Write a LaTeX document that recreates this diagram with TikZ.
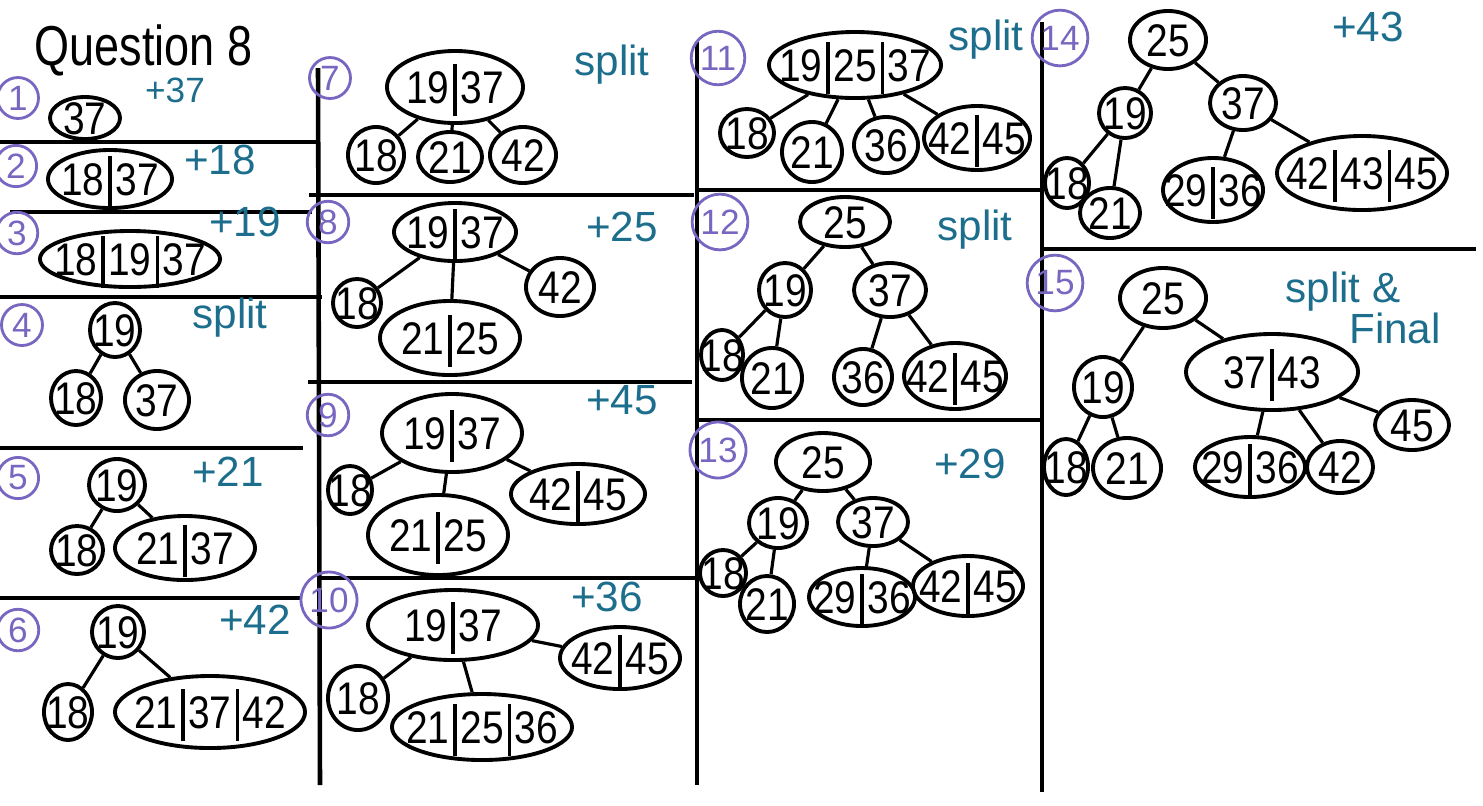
\documentclass[tikz,border=0pt]{standalone}
\usepackage{fontspec}
\setmainfont{Liberation Sans}
\usetikzlibrary{shapes.geometric}
\definecolor{notecol}{RGB}{28,110,140}
\definecolor{stepcol}{RGB}{120,102,192}
% key text is boxed at zero size, so the ellipse size is set by hand
\newcommand\kn[1]{\makebox[0pt]{\smash{\raisebox{-0.36em}{\scalebox{0.85}[1]{#1}}}}}
\newcommand\kb{\hspace{0.1em}\rule[-0.5ex]{1.1pt}{2.15ex}\hspace{0.1em}}

\begin{document}
\begin{tikzpicture}[x=0.01cm, y=-0.01cm]
	\tikzstyle{keynode}=[
	ellipse,
	draw,
	line width=1.1pt,
	inner sep=0pt,
	font=\fontsize{13}{15}\selectfont
	]
	\tikzstyle{stepnum}=[
	circle,
	draw=stepcol,
	text=stepcol,
	line width=0.8pt,
	inner sep=1pt,
	minimum size=4mm,
	font=\fontsize{10}{12}\selectfont
	]
	\tikzstyle{note}=[text=notecol, font=\fontsize{12}{14}\selectfont]
	\tikzstyle{link}=[line width=0.9pt]
	\tikzstyle{divider}=[line width=1.3pt]
	\tikzset{wh/.style 2 args={minimum width=#1mm, minimum height=#2mm}}
	\useasboundingbox (0,0) rectangle (1483,805);
	%
	\foreach \xa/\ya/\xb/\yb in {0/142/318/142, 10/212/312/212, 0/297/322/297,
		0/448/303/448, 0/598/300/598, 309/195/694/195, 308/382/692/382,
		318/578/697/578, 697/190/1040/190, 697/420/1040/420, 1040/249/1476/249,
		318/68/320/785, 697/42/697/785, 1042/22/1042/792}
		\draw[divider] (\xa,\ya) -- (\xb,\yb);
	%
	\node[anchor=west, font=\fontsize{16}{18}\selectfont] (title) at (22,50) {\scalebox{0.8}[1]{Question 8}};
	\foreach \n/\x/\y in {1/18/98, 2/16/166, 3/17/233, 4/22/325, 5/18/478, 6/18/630,
		7/330/78, 8/328/222, 9/328/415, 10/329/600, 11/718/58, 12/720/222,
		13/718/450, 14/1060/38, 15/1055/283}
		\node[stepnum] (n\n) at (\x,\y) {\n};
	%
	\node[note, font=\fontsize{10}{12}\selectfont] (a1) at (175,90) {+37};
	\node[note] (a2) at (220,160) {+18};
	\node[note] (a3) at (245,222) {+19};
	\node[note] (a4) at (230,318) {split};
	\node[note] (a5) at (228,472) {+21};
	\node[note] (a6) at (255,620) {+42};
	\node[note] (a7) at (612,65) {split};
	\node[note] (a8) at (622,227) {+25};
	\node[note] (a9) at (622,400) {+45};
	\node[note] (a10) at (607,597) {+36};
	\node[note] (a11) at (986,40) {split};
	\node[note] (a12) at (975,230) {split};
	\node[note] (a13) at (970,464) {+29};
	\node[note] (a14) at (1368,27) {+43};
	\node[note] (a15) at (1343,292) {split \&};
	\node[note] (a15b) at (1395,328) {Final};
	%
	% 1 - 3
	\node[keynode, wh={7}{4.2}] (R1) at (85,118) {\kn{37}};
	\node[keynode, wh={12.4}{5.8}] (R2) at (110,179) {\kn{18\kb 37}};
	\node[keynode, wh={18}{5.6}] (R3) at (130,259) {\kn{18\kb 19\kb 37}};
	% 4
	\node[keynode, wh={5}{5.4}] (R4) at (115,330) {\kn{19}};
	\node[keynode, wh={5}{5.4}] (A4) at (76,398) {\kn{18}};
	\node[keynode, wh={6.4}{5.8}] (B4) at (157,400) {\kn{37}};
	\draw[link] (R4) -- (A4);
	\draw[link] (R4) -- (B4);
	% 5
	\node[keynode, wh={5.6}{5.2}] (R5) at (117,485) {\kn{19}};
	\node[keynode, wh={5.2}{4.8}] (A5) at (77,550) {\kn{18}};
	\node[keynode, wh={14}{6.4}] (B5) at (185,548) {\kn{21\kb 37}};
	\draw[link] (R5) -- (A5);
	\draw[link] (R5) -- (B5);
	% 6
	\node[keynode, wh={5.2}{5.2}] (R6) at (118,632) {\kn{19}};
	\node[keynode, wh={4.8}{5.6}] (A6) at (68,712) {\kn{18}};
	\node[keynode, wh={19}{7.2}] (B6) at (210,712) {\kn{21\kb 37\kb 42}};
	\draw[link] (R6) -- (A6);
	\draw[link] (R6) -- (B6);
	% 7
	\node[keynode, wh={13.6}{7.2}] (R7) at (455,87) {\kn{19\kb 37}};
	\node[keynode, wh={5.6}{5.6}] (A7) at (376,155) {\kn{18}};
	\node[keynode, wh={6.4}{5}] (B7) at (450,157) {\kn{21}};
	\node[keynode, wh={6.6}{5.6}] (C7) at (523,155) {\kn{42}};
	\draw[link] (R7) -- (A7);
	\draw[link] (R7) -- (B7);
	\draw[link] (R7) -- (C7);
	% 8
	\node[keynode, wh={12.2}{5.8}] (R8) at (455,232) {\kn{19\kb 37}};
	\node[keynode, wh={4.8}{4.8}] (A8) at (357,303) {\kn{18}};
	\node[keynode, wh={14}{7.4}] (B8) at (450,338) {\kn{21\kb 25}};
	\node[keynode, wh={6.8}{5.8}] (C8) at (560,287) {\kn{42}};
	\draw[link] (R8) -- (A8);
	\draw[link] (R8) -- (B8);
	\draw[link] (R8) -- (C8);
	% 9
	\node[keynode, wh={14}{7.8}] (R9) at (452,433) {\kn{19\kb 37}};
	\node[keynode, wh={4.4}{4.8}] (A9) at (350,490) {\kn{18}};
	\node[keynode, wh={14}{8}] (B9) at (438,535) {\kn{21\kb 25}};
	\node[keynode, wh={13.4}{6}] (C9) at (578,494) {\kn{42\kb 45}};
	\draw[link] (R9) -- (A9);
	\draw[link] (R9) -- (B9);
	\draw[link] (R9) -- (C9);
	% 10
	\node[keynode, wh={17}{7}] (R10) at (453,625) {\kn{19\kb 37}};
	\node[keynode, wh={6}{6.4}] (A10) at (358,698) {\kn{18}};
	\node[keynode, wh={18}{6.6}] (B10) at (482,727) {\kn{21\kb 25\kb 36}};
	\node[keynode, wh={12}{6.2}] (C10) at (620,658) {\kn{42\kb 45}};
	\draw[link] (R10) -- (A10);
	\draw[link] (R10) -- (B10);
	\draw[link] (R10) -- (C10);
	% 11
	\node[keynode, wh={17.2}{6.6}] (R11) at (855,65) {\kn{19\kb 25\kb 37}};
	\node[keynode, wh={5.4}{4.8}] (A11) at (747,133) {\kn{18}};
	\node[keynode, wh={6}{6}] (B11) at (812,152) {\kn{21}};
	\node[keynode, wh={6.4}{5.6}] (C11) at (886,145) {\kn{36}};
	\node[keynode, wh={10.6}{6.4}] (D11) at (977,138) {\kn{42\kb 45}};
	\draw[link] (R11) -- (A11);
	\draw[link] (R11) -- (B11);
	\draw[link] (R11) -- (C11);
	\draw[link] (R11) -- (D11);
	% 12
	\node[keynode, wh={9}{5}] (R12) at (845,222) {\kn{25}};
	\node[keynode, wh={5.2}{5.4}] (L12) at (785,290) {\kn{19}};
	\node[keynode, wh={7.2}{5.4}] (M12) at (890,290) {\kn{37}};
	\node[keynode, wh={4.2}{5}] (A12) at (722,355) {\kn{18}};
	\node[keynode, wh={6}{6}] (B12) at (772,378) {\kn{21}};
	\node[keynode, wh={5.8}{5.6}] (C12) at (863,377) {\kn{36}};
	\node[keynode, wh={10.2}{6.6}] (D12) at (955,376) {\kn{42\kb 45}};
	\draw[link] (R12) -- (L12);
	\draw[link] (R12) -- (M12);
	\draw[link] (L12) -- (A12);
	\draw[link] (L12) -- (B12);
	\draw[link] (M12) -- (C12);
	\draw[link] (M12) -- (D12);
	% 13
	\node[keynode, wh={9.4}{5.8}] (R13) at (823,462) {\kn{25}};
	\node[keynode, wh={5.8}{5}] (L13) at (778,523) {\kn{19}};
	\node[keynode, wh={7}{4.8}] (M13) at (873,522) {\kn{37}};
	\node[keynode, wh={4.6}{4.6}] (A13) at (723,573) {\kn{18}};
	\node[keynode, wh={5.4}{5.6}] (B13) at (767,604) {\kn{21}};
	\node[keynode, wh={10.6}{5.8}] (C13) at (862,597) {\kn{29\kb 36}};
	\node[keynode, wh={11}{6}] (D13) at (968,586) {\kn{42\kb 45}};
	\draw[link] (R13) -- (L13);
	\draw[link] (R13) -- (M13);
	\draw[link] (L13) -- (A13);
	\draw[link] (L13) -- (B13);
	\draw[link] (M13) -- (C13);
	\draw[link] (M13) -- (D13);
	% 14
	\node[keynode, wh={7.6}{5.8}] (R14) at (1168,40) {\kn{25}};
	\node[keynode, wh={5.2}{5}] (L14) at (1125,113) {\kn{19}};
	\node[keynode, wh={6.6}{5.4}] (M14) at (1243,103) {\kn{37}};
	\node[keynode, wh={4.4}{5}] (A14) at (1067,183) {\kn{18}};
	\node[keynode, wh={6}{5}] (B14) at (1110,213) {\kn{21}};
	\node[keynode, wh={10}{6.4}] (C14) at (1213,190) {\kn{29\kb 36}};
	\node[keynode, wh={17}{7.4}] (D14) at (1362,173) {\kn{42\kb 43\kb 45}};
	\draw[link] (R14) -- (L14);
	\draw[link] (R14) -- (M14);
	\draw[link] (L14) -- (A14);
	\draw[link] (L14) -- (B14);
	\draw[link] (M14) -- (C14);
	\draw[link] (M14) -- (D14);
	% 15
	\node[keynode, wh={8.6}{6}] (R15) at (1163,298) {\kn{25}};
	\node[keynode, wh={5.8}{6}] (L15) at (1103,387) {\kn{19}};
	\node[keynode, wh={17.2}{7.6}] (M15) at (1272,372) {\kn{37\kb 43}};
	\node[keynode, wh={4.4}{5.6}] (A15) at (1066,467) {\kn{18}};
	\node[keynode, wh={6.8}{6}] (B15) at (1127,468) {\kn{21}};
	\node[keynode, wh={11}{6}] (C15) at (1250,467) {\kn{29\kb 36}};
	\node[keynode, wh={6.6}{5.2}] (D15) at (1340,467) {\kn{42}};
	\node[keynode, wh={7.4}{5}] (E15) at (1412,425) {\kn{45}};
	\draw[link] (R15) -- (L15);
	\draw[link] (R15) -- (M15);
	\draw[link] (L15) -- (A15);
	\draw[link] (L15) -- (B15);
	\draw[link] (M15) -- (C15);
	\draw[link] (M15) -- (D15);
	\draw[link] (M15) -- (E15);
\end{tikzpicture}
\end{document}
